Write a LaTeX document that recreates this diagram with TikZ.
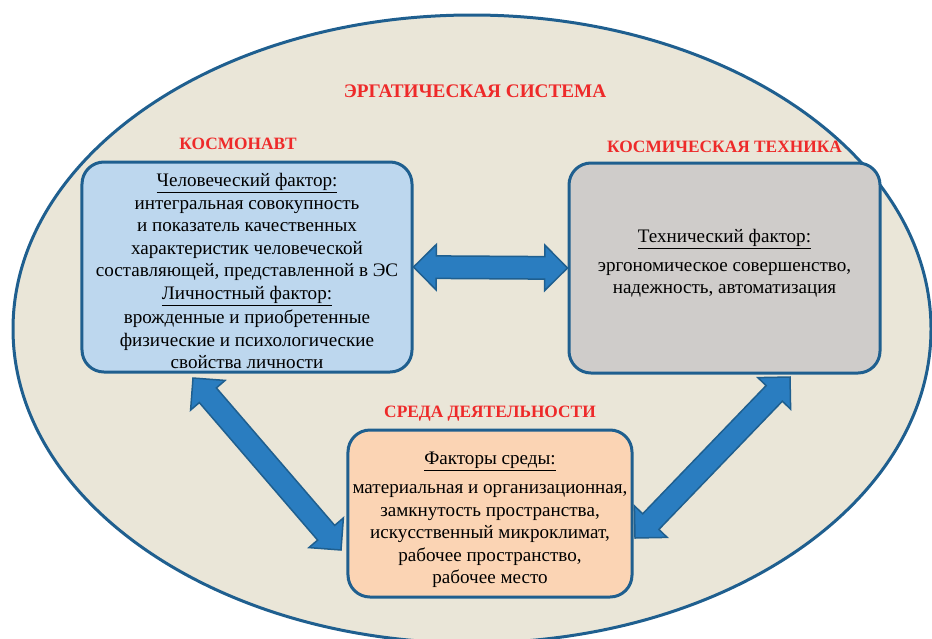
\documentclass[tikz,border=0pt]{standalone}
\usepackage{fontspec}
\setmainfont{LiberationSerif}[Extension=.ttf, UprightFont=*-Regular, BoldFont=*-Bold,
  ItalicFont=*-Italic, BoldItalicFont=*-BoldItalic]
\usepackage{xcolor}
\usetikzlibrary{positioning,shapes.arrows,calc}

\definecolor{edgeblue}{HTML}{1F5F8F}
\definecolor{arrowblue}{HTML}{2A7DC0}
\definecolor{ovalfill}{HTML}{EAE6D8}
\definecolor{humanfill}{HTML}{BDD7EE}
\definecolor{techfill}{HTML}{CFCCCA}
\definecolor{envfill}{HTML}{FBD4B4}
\definecolor{headred}{HTML}{EE2A2A}

% fat double arrow between two named points
\newcommand{\fatlink}[2]{%
  \path let \p1=($(#2)-(#1)$), \n1={atan2(\y1,\x1)}, \n2={veclen(\x1,\y1)} in
    node[fatarrow, rotate=\n1, minimum height=\n2] at ($(#1)!0.5!(#2)$) {};}

\begin{document}
\begin{tikzpicture}[
    x=0.03cm, y=-0.03cm,
    factorbox/.style={draw=edgeblue, line width=0.09cm, rounded corners=0.66cm, align=center,
      font=\rmfamily\fontsize{16.3}{19.2}\selectfont, inner sep=0pt},
    redlabel/.style={text=headred, font=\rmfamily\fontsize{14.8}{17}\selectfont\bfseries, inner sep=0pt, text depth=0pt},
    fatarrow/.style={double arrow, draw=edgeblue, fill=arrowblue, line width=0.045cm,
      inner sep=0.315cm, outer sep=0pt, double arrow head extend=0.345cm}
]
\useasboundingbox (0,0) rectangle (932,638);
\clip (0,0) rectangle (932,638);

% Oval
\draw[draw=edgeblue, fill=ovalfill, line width=0.09cm] (472,329) ellipse [x radius=459, y radius=314];

% Nodes
\node[redlabel, font=\rmfamily\fontsize{16.4}{19}\selectfont\bfseries] (title) at (475,91) {ЭРГАТИЧЕСКАЯ СИСТЕМА};

\node[factorbox, fill=humanfill, minimum width=9.9cm, minimum height=6.3cm] (human) at (247,267)
  {\rule{0pt}{0.66cm}\underline{Человеческий фактор:}\\
   интегральная совокупность\\
   и показатель качественных\\
   характеристик человеческой\\
   составляющей, представленной в ЭС\\
   \underline{Личностный фактор:}\\[0.06cm]
   врожденные и приобретенные\\
   физические и психологические\\
   свойства личности};
\node[factorbox, fill=techfill, minimum width=9.33cm, minimum height=6.3cm] (tech) at (724.5,268)
  {\underline{Технический фактор:}\\[0.18cm]
   эргономическое совершенство,\\
   надежность, автоматизация\\[-0.3cm]};
\node[factorbox, fill=envfill, minimum width=8.52cm, minimum height=5.01cm] (env) at (490,513.5)
  {\rule{0pt}{0.75cm}\underline{Факторы среды:}\\[0.2cm]
   материальная и организационная,\\
   замкнутость пространства,\\
   искусственный микроклимат,\\
   рабочее пространство,\\
   рабочее место};

\node[redlabel, above=0.32cm of human, xshift=-0.27cm] (cosmonaut) {КОСМОНАВТ};
\node[redlabel, above=0.255cm of tech] (spacetech) {КОСМИЧЕСКАЯ ТЕХНИКА};
\node[redlabel, above=0.315cm of env] (envlabel) {СРЕДА ДЕЯТЕЛЬНОСТИ};

% Arrow ends
\coordinate (humanfoot) at (193,378);
\coordinate (envleft) at (341,550);
\coordinate (techfoot) at (790,377);
\coordinate (envright) at (635,538);

% Double arrows
\fatlink{human.east}{tech.west}
\fatlink{humanfoot}{envleft}
\fatlink{techfoot}{envright}

\end{tikzpicture}
\end{document}
